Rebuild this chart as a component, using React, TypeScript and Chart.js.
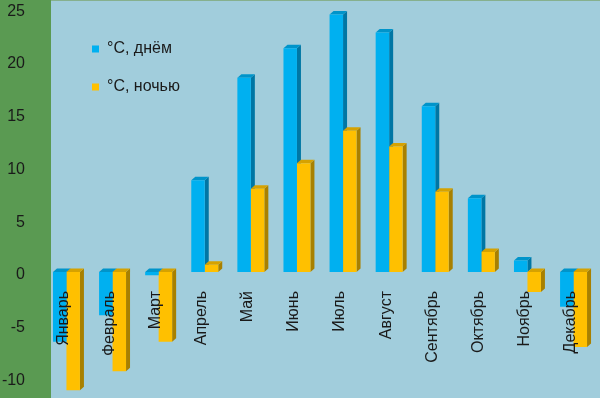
import React, { useEffect, useRef } from "react";
import { Chart, registerables } from "chart.js";

Chart.register(...registerables);

const months = ["Январь", "Февраль", "Март", "Апрель", "Май", "Июнь", "Июль", "Август", "Сентябрь", "Октябрь", "Ноябрь", "Декабрь"];
const dayTemps = [-6.6, -4.1, -0.3, 8.7, 18.4, 21.2, 24.4, 22.7, 15.7, 7.0, 1.1, -3.3];
const nightTemps = [-11.2, -9.4, -6.6, 0.7, 7.9, 10.3, 13.4, 11.9, 7.6, 1.9, -1.9, -7.1];
const yTicks = [-10, -5, 0, 5, 10, 15, 20, 25];
const seriesLabels = ["°C, днём", "°C, ночью"];

const frontColors = ["#00B0F0", "#FFC000"];
const topColors = ["#0094CA", "#D6A200"];
const sideColors = ["#0076A4", "#A88000"];

const FONT = "Arial, 'Liberation Sans', sans-serif";

const bgPlugin = {
  id: "bg",
  beforeDraw(chart: any) {
    const { ctx, width, height } = chart;
    ctx.save();
    ctx.fillStyle = "#A1CDDC";
    ctx.fillRect(0, 0, width, height);
    ctx.fillStyle = "#5A9A52";
    ctx.fillRect(0, 0, 51, height);
    ctx.fillStyle = "#86B08E";
    ctx.fillRect(51, 0, width - 51, 1);
    ctx.restore();
  },
};

const legendShift = {
  id: "legendShift",
  afterLayout(chart: any) {
    if (chart.legend) {
      chart.legend.left = 70;
      chart.legend.top = 19;
    }
  },
};

// 3D depth faces (side + top), drawn before the front faces so that
// the second series' front face hides the first series' side face.
const bar3d = {
  id: "bar3d",
  beforeDatasetsDraw(chart: any) {
    const ctx = chart.ctx;
    const dx = 4;
    const dy = 3.5;
    ctx.save();
    chart.data.datasets.forEach((_ds: any, i: number) => {
      const meta = chart.getDatasetMeta(i);
      meta.data.forEach((el: any) => {
        const p = el.getProps(["x", "y", "base", "width"], true);
        const l = p.x - p.width / 2;
        const r = p.x + p.width / 2;
        const t = Math.min(p.y, p.base);
        const b = Math.max(p.y, p.base);
        ctx.fillStyle = sideColors[i];
        ctx.beginPath();
        ctx.moveTo(r, t);
        ctx.lineTo(r + dx, t - dy);
        ctx.lineTo(r + dx, b - dy);
        ctx.lineTo(r, b);
        ctx.closePath();
        ctx.fill();
        ctx.fillStyle = topColors[i];
        ctx.beginPath();
        ctx.moveTo(l, t);
        ctx.lineTo(l + dx, t - dy);
        ctx.lineTo(r + dx, t - dy);
        ctx.lineTo(r, t);
        ctx.closePath();
        ctx.fill();
      });
    });
    ctx.restore();
  },
};

const zeroPadding = (scale: any) => {
  scale.paddingTop = 0;
  scale.paddingBottom = 0;
  scale.paddingLeft = 0;
  scale.paddingRight = 0;
};

export default function App() {
  const ref = useRef<HTMLCanvasElement | null>(null);
  useEffect(() => {
    if (!ref.current) return;
    const chart = new Chart(ref.current, {
      type: "bar",
      data: {
        labels: months,
        datasets: [
          {
            label: seriesLabels[0],
            data: dayTemps,
            backgroundColor: frontColors[0],
            borderWidth: 0,
            categoryPercentage: 0.585,
            barPercentage: 1,
          },
          {
            label: seriesLabels[1],
            data: nightTemps,
            backgroundColor: frontColors[1],
            borderWidth: 0,
            categoryPercentage: 0.585,
            barPercentage: 1,
          },
        ],
      },
      options: {
        responsive: false,
        animation: false,
        layout: { padding: { left: 0, top: 0, right: 3.4, bottom: 0 } },
        plugins: {
          tooltip: { enabled: false },
          legend: {
            position: "chartArea",
            align: "start",
            labels: {
              boxWidth: 7,
              boxHeight: 7,
              padding: 22,
              color: "#1a1a1a",
              font: { family: FONT, size: 16 },
            },
          },
        },
        scales: {
          x: {
            type: "category",
            position: { y: 0 } as any,
            grid: { display: false, drawTicks: false },
            border: { display: false },
            ticks: {
              z: 1,
              autoSkip: false,
              minRotation: 90,
              maxRotation: 90,
              padding: 19,
              labelOffset: -3,
              color: "#1a1a1a",
              font: { family: FONT, size: 16 },
            },
            afterFit: zeroPadding,
          },
          y: {
            type: "linear",
            min: -11.94,
            max: 25.78,
            grid: { display: false, drawTicks: false },
            border: { display: false },
            ticks: {
              padding: 18.4,
              labelOffset: 3,
              color: "#1a1a1a",
              font: { family: FONT, size: 16 },
            },
            afterBuildTicks: (scale: any) => {
              scale.ticks = yTicks.map((v) => ({ value: v }));
            },
            afterFit: (scale: any) => {
              scale.width = 43.4;
              zeroPadding(scale);
            },
          },
        },
      },
      plugins: [bgPlugin, legendShift, bar3d],
    });
    return () => chart.destroy();
  }, []);
  return (
    <div style={{ position: "absolute", left: 0, top: 0, width: 600, height: 398 }}>
      <canvas ref={ref} width={600} height={398} style={{ display: "block" }} />
    </div>
  );
}
